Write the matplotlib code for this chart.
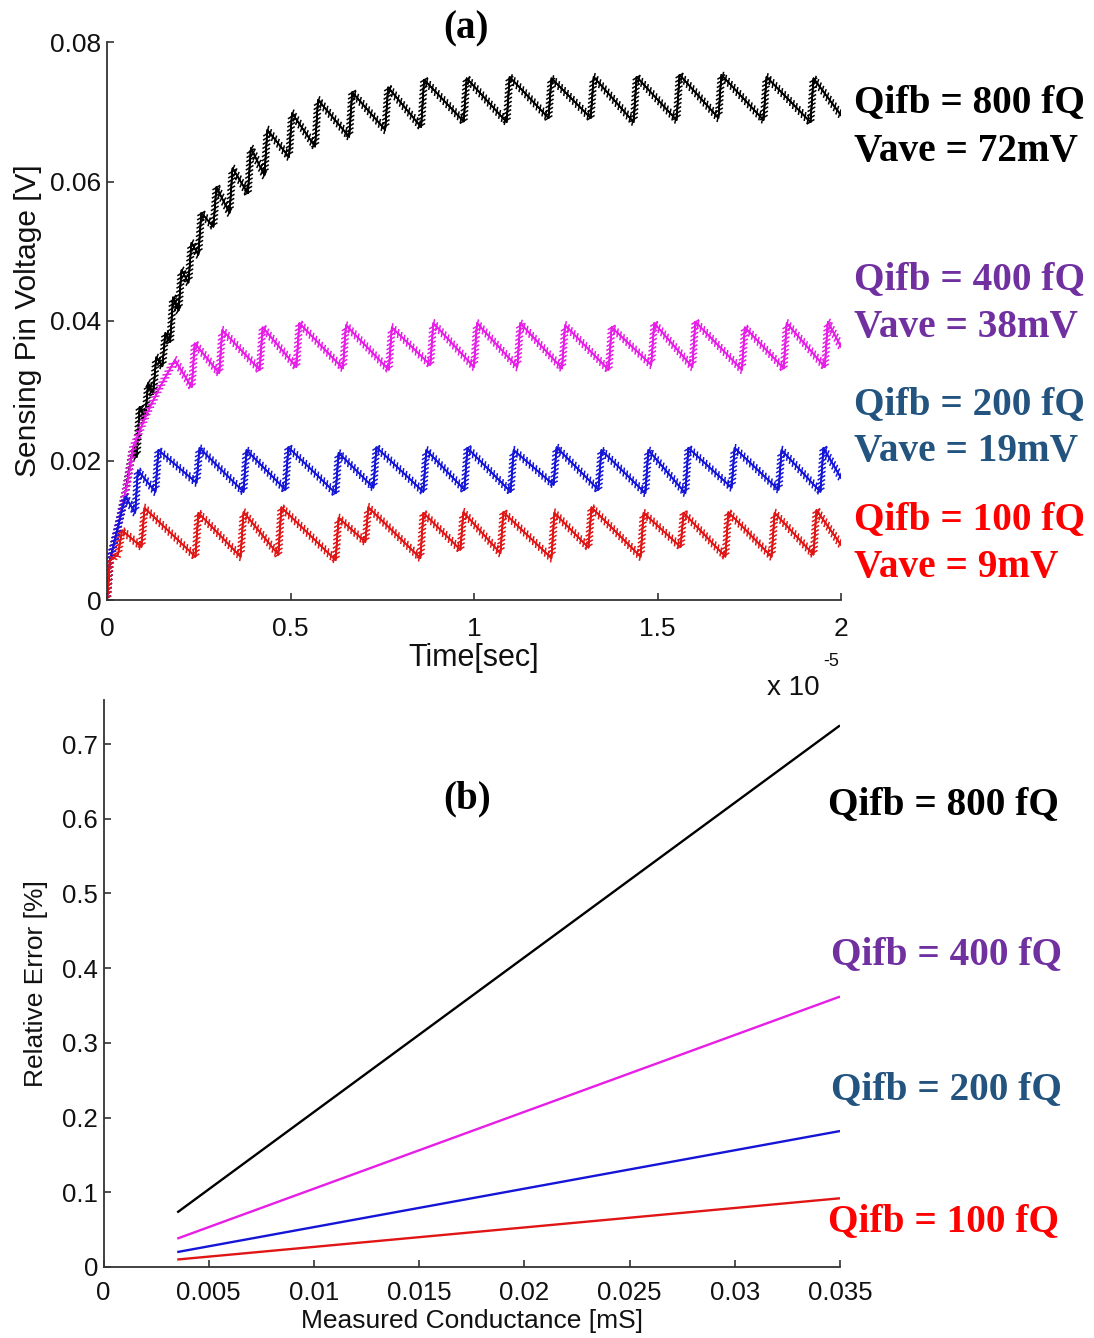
import numpy as np
import matplotlib
matplotlib.use("Agg")
import matplotlib.pyplot as plt
import matplotlib.patheffects as pe

# ---------------- data : panel (a) -----------------
# time in units of 1e-5 s, voltage in mV
# each series: start segment, then saw-tooth jumps (trough before jump, peak after jump), end value
red_start_t = [0.0, 0.008, 0.030, 0.041]
red_start_v = [0.0, 5.7, 6.5, 10.0]
red_jump_t = [0.098, 0.245, 0.368, 0.471, 0.627, 0.708, 0.858, 0.967, 1.076, 1.215,
              1.316, 1.458, 1.567, 1.689, 1.815, 1.929]
red_trough = [7.6, 6.2, 6.2, 6.5, 5.7, 8.3, 6.0, 7.2, 6.7, 6.0, 7.5, 6.2, 7.6, 6.2, 6.2, 6.5]
red_peak = [13.2, 12.5, 12.6, 13.3, 11.8, 13.3, 12.5, 12.6, 12.6, 12.5, 13.3, 12.5, 12.5,
            12.6, 12.5, 12.9]
red_end = 7.9

blue_start_t = [0.0, 0.008, 0.030, 0.050, 0.077, 0.084]
blue_start_v = [0.0, 5.7, 10.5, 14.8, 12.5, 18.6]
blue_jump_t = [0.136, 0.248, 0.376, 0.490, 0.627, 0.730, 0.866, 0.978, 1.104, 1.221,
               1.343, 1.471, 1.580, 1.706, 1.834, 1.948]
blue_trough = [15.5, 16.8, 15.5, 15.8, 15.3, 16.1, 15.5, 15.8, 15.5, 16.5, 15.8, 15.3, 15.3,
               16.1, 15.8, 15.5]
blue_peak = [21.5, 21.8, 21.5, 21.9, 21.1, 21.9, 21.5, 21.8, 21.5, 21.9, 21.5, 21.5, 21.8,
             21.8, 21.5, 21.8]
blue_end = 17.5

mag_start_t = [0.0, 0.008, 0.030, 0.057, 0.071, 0.109, 0.144, 0.185]
mag_start_v = [0.0, 5.7, 10.5, 17.2, 21.9, 26.8, 30.5, 34.4]
mag_jump_t = [0.235, 0.310, 0.420, 0.520, 0.647, 0.772, 0.885, 1.004, 1.122, 1.244,
              1.371, 1.487, 1.599, 1.734, 1.848, 1.960]
mag_trough = [30.5, 32.5, 33.0, 33.4, 33.2, 33.0, 33.7, 33.4, 33.4, 33.2, 33.0, 33.7, 33.4,
              33.0, 33.2, 33.4]
mag_peak = [36.8, 38.7, 39.1, 39.7, 39.4, 39.1, 39.7, 39.7, 39.7, 39.4, 39.1, 39.7, 39.9,
            39.1, 39.7, 39.9]
mag_end = 36.3

blk_start_t = [0.0, 0.008, 0.030, 0.050, 0.071]
blk_start_v = [0.0, 5.7, 10.5, 15.5, 21.9]
blk_jump_t = [0.085, 0.108, 0.130, 0.155, 0.176, 0.199, 0.226, 0.253, 0.294, 0.338,
              0.388, 0.433, 0.500, 0.571, 0.664, 0.762, 0.860, 0.976, 1.093, 1.207,
              1.322, 1.439, 1.556, 1.670, 1.793, 1.921]
blk_trough = [20.5, 26.0, 29.5, 33.5, 37.0, 41.5, 45.5, 49.5, 53.5, 55.5, 58.3, 60.9, 63.5,
              65.0, 66.4, 67.4, 67.8, 68.6, 68.5, 69.1, 69.1, 68.5, 68.8, 69.1, 68.8, 68.5]
blk_peak = [27.7, 31.1, 34.8, 38.3, 43.4, 47.3, 51.2, 55.5, 59.2, 61.9, 64.8, 67.4, 69.8,
            71.7, 72.8, 73.5, 74.6, 74.8, 75.0, 74.8, 75.0, 75.0, 75.3, 75.3, 75.0, 74.8]
blk_end = 69.5

t_end = 2.0

labels_a = [("Qifb = 800 fQ", "Vave = 72mV"), ("Qifb = 400 fQ", "Vave = 38mV"),
            ("Qifb = 200 fQ", "Vave = 19mV"), ("Qifb = 100 fQ", "Vave = 9mV")]

xticks_a = [0, 0.5, 1, 1.5, 2]
xticklabels_a = ["0", "0.5", "1", "1.5", "2"]
yticks_a = [0, 0.02, 0.04, 0.06, 0.08]
yticklabels_a = ["0", "0.02", "0.04", "0.06", "0.08"]

# ---------------- data : panel (b) -----------------
conductance = [0.0035, 0.035]          # mS
err_800 = [0.073, 0.725]               # %
err_400 = [0.038, 0.362]
err_200 = [0.020, 0.182]
err_100 = [0.010, 0.092]
labels_b = ["Qifb = 800 fQ", "Qifb = 400 fQ", "Qifb = 200 fQ", "Qifb = 100 fQ"]
xticks_b = [0, 0.005, 0.01, 0.015, 0.02, 0.025, 0.03, 0.035]
xticklabels_b = ["0", "0.005", "0.01", "0.015", "0.02", "0.025", "0.03", "0.035"]
yticks_b = [0, 0.1, 0.2, 0.3, 0.4, 0.5, 0.6, 0.7]
yticklabels_b = ["0", "0.1", "0.2", "0.3", "0.4", "0.5", "0.6", "0.7"]

# ---------------- styling -----------------
W, H = 1094, 1338
fig = plt.figure(figsize=(W / 100, H / 100), dpi=100)
SANS = ["Liberation Sans", "DejaVu Sans"]
SERIF = ["Liberation Serif", "DejaVu Serif"]

line_cols = {"blk": "#000000", "mag": "#e61ee6", "blue": "#1515d8", "red": "#e01515"}
text_cols = ["#000000", "#7030a0", "#23537f", "#ff0000"]


def fx(px):
    return px / W


def fy(py):
    return 1 - py / H


def build(st_t, st_v, jt, tr, pk, end):
    d = 0.004
    t = list(st_t)
    v = list(st_v)
    for tj, a, b in zip(jt, tr, pk):
        t += [tj - d, tj + d]
        v += [a, b]
    t.append(t_end)
    v.append(end)
    return np.array(t), np.array(v) / 1000.0


# ---------------- panel (a) -----------------
ax1 = fig.add_axes([fx(107), fy(600), fx(841) - fx(107), fy(42) - fy(600)])
ripple = [pe.withTickedStroke(angle=125, spacing=3.0, length=0.9),
          pe.withTickedStroke(angle=-55, spacing=3.0, length=0.9),
          pe.Normal()]
series = [
    (build(blk_start_t, blk_start_v, blk_jump_t, blk_trough, blk_peak, blk_end), line_cols["blk"]),
    (build(mag_start_t, mag_start_v, mag_jump_t, mag_trough, mag_peak, mag_end), line_cols["mag"]),
    (build(blue_start_t, blue_start_v, blue_jump_t, blue_trough, blue_peak, blue_end), line_cols["blue"]),
    (build(red_start_t, red_start_v, red_jump_t, red_trough, red_peak, red_end), line_cols["red"]),
]
for (t, v), c in series:
    ax1.plot(t, v, color=c, lw=1.1, path_effects=ripple)

ax1.set_xlim(0, 2)
ax1.set_ylim(0, 0.08)
ax1.set_xticks(xticks_a)
ax1.set_xticklabels(xticklabels_a)
ax1.set_yticks(yticks_a)
ax1.set_yticklabels(yticklabels_a)

# ---------------- panel (b) -----------------
ax2 = fig.add_axes([fx(103.6), fy(1267), fx(840) - fx(103.6), fy(700) - fy(1267)])
for ys, c in zip([err_800, err_400, err_200, err_100],
                 [line_cols["blk"], line_cols["mag"], line_cols["blue"], line_cols["red"]]):
    ax2.plot(conductance, ys, color=c, lw=1.7, solid_capstyle="butt")
ax2.set_xlim(0, 0.035)
ax2.set_ylim(0, 0.759)
ax2.set_xticks(xticks_b)
ax2.set_xticklabels(xticklabels_b)
ax2.set_yticks(yticks_b)
ax2.set_yticklabels(yticklabels_b)

for ax in (ax1, ax2):
    for s in ("top", "right"):
        ax.spines[s].set_visible(False)
    for s in ("left", "bottom"):
        ax.spines[s].set_linewidth(1.3)
        ax.spines[s].set_color("#333333")
    ax.tick_params(direction="in", length=5, width=1.2, colors="#333333",
                   labelcolor="#111111", labelsize=19)
    for lab in ax.get_xticklabels() + ax.get_yticklabels():
        lab.set_family(SANS)
ax1.tick_params(axis="x", pad=12)
ax1.tick_params(axis="y", pad=4)
ax2.tick_params(axis="x", pad=10)
ax2.tick_params(axis="y", pad=4)
ax2.tick_params(labelsize=18.5)

ax1.set_xlabel("Time[sec]", family=SANS, fontsize=22, labelpad=2, color="#111111")
ax1.set_ylabel("Sensing Pin Voltage [V]", family=SANS, fontsize=21.5, labelpad=6, color="#111111")
ax2.set_xlabel("Measured Conductance [mS]", family=SANS, fontsize=19, labelpad=3, color="#111111")
ax2.set_ylabel("Relative Error [%]", family=SANS, fontsize=19, labelpad=10, color="#111111")

fig.text(fx(793), fy(688), "x 10", family=SANS, fontsize=20, ha="center", va="center", color="#111111")
fig.text(fx(831), fy(661), "-5", family=SANS, fontsize=13, ha="center", va="center", color="#111111")

# panel titles
fig.text(fx(466), fy(29), "(a)", family=SERIF, fontsize=28, fontweight="bold", ha="center", va="center")
fig.text(fx(467), fy(799), "(b)", family=SERIF, fontsize=28, fontweight="bold", ha="center", va="center")

# annotations panel (a)
ya = [(103, 151), (280, 327), (405, 452), (520, 567)]
for (l1, l2), (y1, y2), c in zip(labels_a, ya, text_cols):
    fig.text(fx(854), fy(y1), l1, family=SERIF, fontsize=28.3, fontweight="bold", color=c,
             ha="left", va="center")
    fig.text(fx(854), fy(y2), l2, family=SERIF, fontsize=28.3, fontweight="bold", color=c,
             ha="left", va="center")

# annotations panel (b)
yb = [805, 955, 1090, 1222]
xb = [828, 831, 831, 828]
for lab, y, x, c in zip(labels_b, yb, xb, text_cols):
    fig.text(fx(x), fy(y), lab, family=SERIF, fontsize=28.3, fontweight="bold", color=c,
             ha="left", va="center")

fig.savefig("out.png", dpi=100, facecolor="white")
